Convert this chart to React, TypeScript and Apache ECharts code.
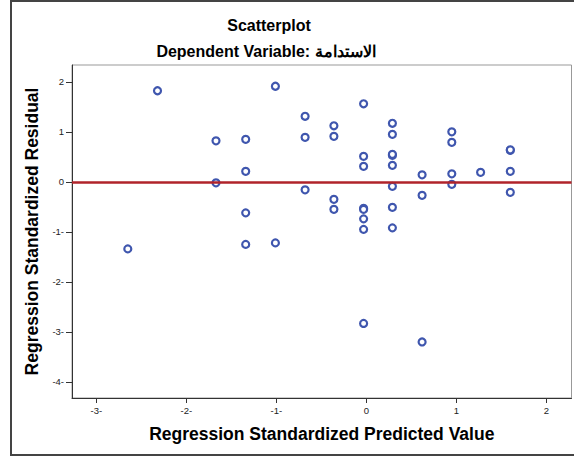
import React, { useEffect, useRef } from "react";
import * as echarts from "echarts";

const titleText = "Scatterplot";
const subtitleText = "Dependent Variable: الاستدامة";
const xAxisTitle = "Regression Standardized Predicted Value";
const yAxisTitle = "Regression Standardized Residual";

const predicted = [
  -2.65, -2.32, -1.67, -1.67, -1.34, -1.34, -1.34, -1.34, -1.01, -1.01,
  -0.68, -0.68, -0.68, -0.36, -0.36, -0.36, -0.36, -0.03, -0.03, -0.03,
  -0.03, -0.03, -0.03, -0.03, -0.03, 0.29, 0.29, 0.29, 0.29, 0.29,
  0.29, 0.29, 0.29, 0.62, 0.62, 0.62, 0.95, 0.95, 0.95, 0.95,
  1.27, 1.6, 1.6, 1.6, 1.6,
];
const residual = [
  -1.34, 1.82, 0.82, -0.02, 0.85, 0.21, -0.62, -1.25, 1.91, -1.22,
  1.31, 0.89, -0.16, 1.12, 0.91, -0.35, -0.55, 1.56, 0.51, 0.31,
  -0.53, -0.55, -0.74, -0.95, -2.83, 1.17, 0.95, 0.53, 0.55, 0.33,
  -0.09, -0.51, -0.92, 0.14, -0.27, -3.2, 1.0, 0.79, 0.16, -0.05,
  0.19, 0.63, 0.64, 0.21, -0.21,
];

const xTickValues = [-3, -2, -1, 0, 1, 2];
const xTickLabels = ["-3-", "-2-", "-1-", "0", "1", "2"];
const yTickValues = [-4, -3, -2, -1, 0, 1, 2];
const yTickLabels = ["-4-", "-3-", "-2-", "-1-", "0", "1", "2"];

const referenceLineY = 0;

export default function App() {
  const ref = useRef<HTMLDivElement>(null);
  useEffect(() => {
    document.body.style.margin = "0";
    const chart = echarts.init(ref.current!, null, { renderer: "svg" });
    const data = predicted.map((x, i) => [x, residual[i]]);
    const font = "'Liberation Sans', Arial, sans-serif";
    chart.setOption({
      animation: false,
      backgroundColor: "#ffffff",
      textStyle: { fontFamily: font },
      graphic: [
        {
          type: "rect",
          shape: { x: 11, y: 1, width: 600, height: 454 },
          style: { fill: "none", stroke: "#444", lineWidth: 2 },
          silent: true,
          z: -10,
        },
        {
          type: "text",
          x: 269,
          y: 25,
          style: {
            text: titleText,
            font: `bold 16px ${font}`,
            fill: "#000",
            textAlign: "center",
            textVerticalAlign: "middle",
          },
        },
        {
          type: "text",
          x: 266,
          y: 51,
          style: {
            text: subtitleText,
            font: `bold 16px ${font}`,
            fill: "#000",
            textAlign: "center",
            textVerticalAlign: "middle",
          },
        },
      ],
      grid: {
        left: 72,
        top: 65,
        right: 2.5,
        bottom: 59,
        show: true,
        borderColor: "#999",
        borderWidth: 1,
        backgroundColor: "#fff",
      },
      xAxis: {
        type: "value",
        min: -3.27,
        max: 2.28,
        name: xAxisTitle,
        nameLocation: "middle",
        nameGap: 27,
        nameTextStyle: { fontSize: 17.5, fontWeight: "bold", color: "#000", fontFamily: font },
        axisLine: { show: true, onZero: false, lineStyle: { color: "#333", width: 1 } },
        axisTick: { show: true, length: 5, customValues: xTickValues, lineStyle: { color: "#333" } },
        axisLabel: {
          customValues: xTickValues,
          fontSize: 9.5,
          color: "#222",
          margin: 7,
          formatter: (v: number) => {
            const i = xTickValues.findIndex((t) => Math.abs(t - v) < 1e-6);
            return i >= 0 ? xTickLabels[i] : "";
          },
        },
        splitLine: { show: false },
      },
      yAxis: {
        type: "value",
        min: -4.32,
        max: 2.335,
        name: yAxisTitle,
        nameLocation: "middle",
        nameGap: 27,
        nameTextStyle: { fontSize: 17.5, fontWeight: "bold", color: "#000", fontFamily: font },
        axisLine: { show: true, onZero: false, lineStyle: { color: "#333", width: 1 } },
        axisTick: { show: true, length: 6, customValues: yTickValues, lineStyle: { color: "#333" } },
        axisLabel: {
          customValues: yTickValues,
          fontSize: 9.5,
          color: "#222",
          margin: 8,
          formatter: (v: number) => {
            const i = yTickValues.findIndex((t) => Math.abs(t - v) < 1e-6);
            return i >= 0 ? yTickLabels[i] : "";
          },
        },
        splitLine: { show: false },
      },
      series: [
        {
          type: "scatter",
          data,
          symbol: "circle",
          symbolSize: 7,
          itemStyle: { color: "#fff", borderColor: "#3F56AE", borderWidth: 2.2, opacity: 1 },
          markLine: {
            silent: true,
            symbol: "none",
            label: { show: false },
            lineStyle: { color: "#B0232A", width: 2.5, type: "solid" },
            data: [{ yAxis: referenceLineY }],
          },
        },
      ],
    });
    return () => chart.dispose();
  }, []);
  return <div ref={ref} style={{ width: 574, height: 457 }} />;
}
